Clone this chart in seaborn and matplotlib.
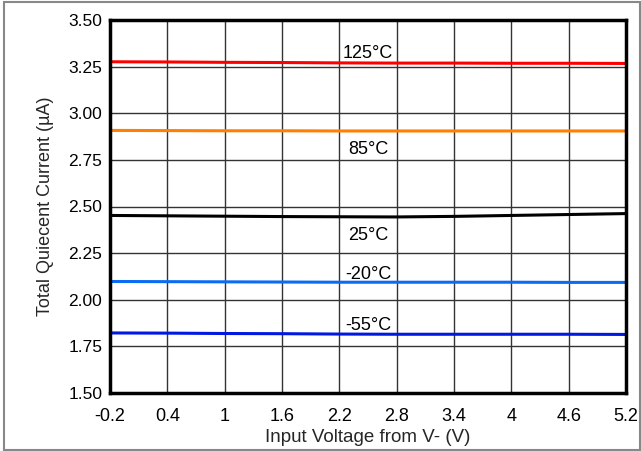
import matplotlib
matplotlib.use("Agg")
import matplotlib.pyplot as plt
import seaborn as sns
import pandas as pd
import numpy as np
from matplotlib.patches import Rectangle

voltage = [-0.2, 0.4, 1.0, 1.6, 2.2, 2.8, 3.4, 4.0, 4.6, 5.2]
temps = ["125°C", "85°C", "25°C", "-20°C", "-55°C"]
i_125 = [3.276, 3.275, 3.273, 3.272, 3.270, 3.269, 3.269, 3.268, 3.268, 3.267]
i_85 = [2.908, 2.907, 2.906, 2.906, 2.905, 2.905, 2.905, 2.905, 2.905, 2.905]
i_25 = [2.452, 2.450, 2.448, 2.446, 2.445, 2.444, 2.447, 2.452, 2.457, 2.462]
i_m20 = [2.098, 2.097, 2.096, 2.095, 2.094, 2.094, 2.094, 2.094, 2.093, 2.093]
i_m55 = [1.822, 1.821, 1.819, 1.818, 1.816, 1.815, 1.815, 1.815, 1.815, 1.814]
colors = ["#ff0000", "#ff8000", "#000000", "#0a6cf2", "#0018e0"]
label_y = [3.32, 2.805, 2.345, 2.135, 1.86]
label_x = 2.5

series = [i_125, i_85, i_25, i_m20, i_m55]
df = pd.concat([pd.DataFrame({"V": voltage, "I": s, "T": t}) for s, t in zip(series, temps)])

sns.set_style("white")
plt.rcParams["font.family"] = ["Liberation Sans", "DejaVu Sans"]

fig = plt.figure(figsize=(6.41, 4.51), dpi=100)
ax = fig.add_axes([110/641, 1-393/451, (626-110)/641, (393-20)/451])
sns.lineplot(data=df, x="V", y="I", hue="T", palette=dict(zip(temps, colors)),
             linewidth=2.2, legend=False, ax=ax)

ax.set_xlim(-0.2, 5.2)
ax.set_ylim(1.5, 3.5)
ax.set_xticks(voltage)
ax.set_xticklabels(["-0.2", "0.4", "1", "1.6", "2.2", "2.8", "3.4", "4", "4.6", "5.2"])
ax.set_yticks(np.arange(1.5, 3.51, 0.25))
ax.set_yticklabels([f"{v:.2f}" for v in np.arange(1.5, 3.51, 0.25)])
ax.grid(True, color="#333333", linewidth=1.0)
ax.set_axisbelow(True)
for sp in ax.spines.values():
    sp.set_visible(True)
    sp.set_linewidth(2.5)
    sp.set_color("black")
ax.tick_params(axis="x", labelsize=13, length=0, pad=10.5, colors="black")
ax.tick_params(axis="y", labelsize=12.5, length=0, pad=5.5, colors="black")
ax.set_xlabel("Input Voltage from V- (V)", fontsize=13.5, labelpad=3.5)
ax.set_ylabel("Total Quiecent Current (\u00b5A)", fontsize=13, labelpad=10)

for t, ly in zip(temps, label_y):
    ax.text(label_x, ly, t, ha="center", va="center", fontsize=13, color="black")

fig.patches.append(Rectangle((4/641, 0.002), 1-5/641, 0.993, transform=fig.transFigure,
                             fill=False, edgecolor="#888888", linewidth=1.5))
fig.savefig("out.png", dpi=100)
